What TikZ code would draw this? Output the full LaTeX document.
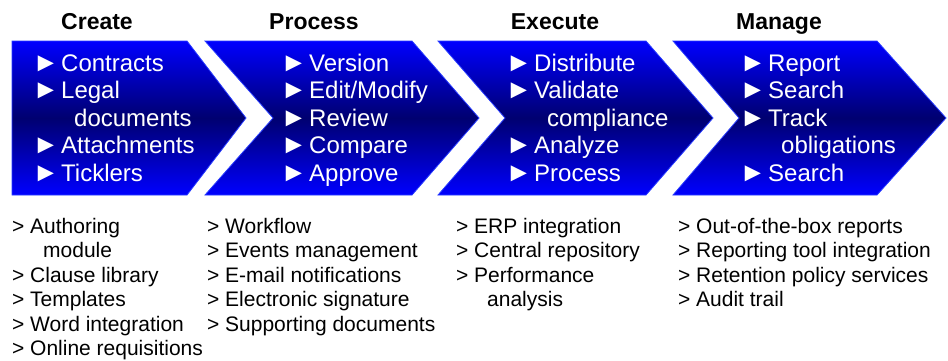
\documentclass[tikz,border=0pt]{standalone}
\usepackage{fontspec}
\setmainfont{Liberation Sans}
\newcommand\ptr{\makebox[26pt][l]{\hspace*{-2.5pt}\scalebox{1.12}{►}}}
\newcommand\gtr{\makebox[18pt][l]{>}}
\newcommand\cind{\hspace*{39pt}}
\newcommand\gind{\hspace*{31pt}}
\definecolor{chevtop}{RGB}{0,0,255}
\definecolor{chevmid}{RGB}{0,0,112}
\definecolor{chevedge}{RGB}{40,60,255}
\tikzset{
  chev/.style={draw=chevedge, line width=0.8pt, top color=chevtop, bottom color=chevtop, middle color=chevmid},
  head/.style={font=\fontsize{23}{27}\selectfont\bfseries, anchor=base, inner sep=0pt},
  wtext/.style={text=white, font=\fontsize{24}{27.5}\selectfont, anchor=base west, inner sep=0pt},
  btext/.style={text=black, font=\fontsize{21}{24.5}\selectfont, anchor=base west, inner sep=0pt}
}
\begin{document}
\begin{tikzpicture}[x=1pt,y=-1pt]
\useasboundingbox (0,0) rectangle (948,360);
% chevrons
\path[chev] (12,41) -- (187,41) -- (246,118) -- (187,195) -- (12,195) -- cycle;
\path[chev] (205,41) -- (412,41) -- (479,118) -- (412,195) -- (205,195) -- (273,118) -- cycle;
\path[chev] (438,41) -- (646,41) -- (713,118) -- (646,195) -- (438,195) -- (505,118) -- cycle;
\path[chev] (673,41) -- (877,41) -- (946,118) -- (877,195) -- (673,195) -- (739,118) -- cycle;
% headings
\node[head] (h1) at (97,29) {Create};
\node[head] (h2) at (314,29) {Process};
\node[head] (h3) at (555,29) {Execute};
\node[head] (h4) at (779,29) {Manage};
% chevron texts
\node[wtext] (c1) at (35,71) {\begin{tabular}[t]{@{}l@{}}\ptr Contracts\\ \ptr Legal\\ \cind documents\\ \ptr Attachments\\ \ptr Ticklers\end{tabular}};
\node[wtext] (c2) at (283,71) {\begin{tabular}[t]{@{}l@{}}\ptr Version\\ \ptr Edit/Modify\\ \ptr Review\\ \ptr Compare\\ \ptr Approve\end{tabular}};
\node[wtext] (c3) at (508,71) {\begin{tabular}[t]{@{}l@{}}\ptr Distribute\\ \ptr Validate\\ \cind compliance\\ \ptr Analyze\\ \ptr Process\end{tabular}};
\node[wtext] (c4) at (742,71) {\begin{tabular}[t]{@{}l@{}}\ptr Report\\ \ptr Search\\ \ptr Track\\ \cind obligations\\ \ptr Search\end{tabular}};
% bottom lists
\node[btext] (b1) at (12,233) {\begin{tabular}[t]{@{}l@{}}\gtr Authoring\\ \gind module\\ \gtr Clause library\\ \gtr Templates\\ \gtr Word integration\\ \gtr Online requisitions\end{tabular}};
\node[btext] (b2) at (207,233) {\begin{tabular}[t]{@{}l@{}}\gtr Workflow\\ \gtr Events management\\ \gtr E-mail notifications\\ \gtr Electronic signature\\ \gtr Supporting documents\end{tabular}};
\node[btext] (b3) at (456,233) {\begin{tabular}[t]{@{}l@{}}\gtr ERP integration\\ \gtr Central repository\\ \gtr Performance\\ \gind analysis\end{tabular}};
\node[btext] (b4) at (678,233) {\begin{tabular}[t]{@{}l@{}}\gtr Out-of-the-box reports\\ \gtr Reporting tool integration\\ \gtr Retention policy services\\ \gtr Audit trail\end{tabular}};
\end{tikzpicture}
\end{document}
